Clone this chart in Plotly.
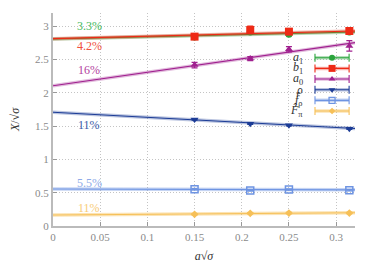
import plotly.graph_objects as go

# ---- data ----
x_pts = [0.15, 0.209, 0.25, 0.314]
series_names = ["a1", "b1", "a0", "rho", "f_rho", "F_pi"]
legend_labels = ["<i>a</i><sub>1</sub>", "<i>b</i><sub>1</sub>", "<i>a</i><sub>0</sub>",
                 "<i>ρ</i>", "<i>f̂</i><sub>ρ</sub>", "<i>F̂</i><sub>π</sub>"]
a1_vals = [2.84, 2.915, 2.88, 2.915]
a1_err = [0.02, 0.03, 0.02, 0.03]
b1_vals = [2.845, 2.945, 2.92, 2.93]
b1_err = [0.03, 0.06, 0.03, 0.04]
a0_vals = [2.417, 2.516, 2.656, 2.706]
a0_err = [0.04, 0.03, 0.04, 0.08]
rho_vals = [1.60, 1.535, 1.515, 1.46]
rho_err = [0.01, 0.01, 0.01, 0.01]
frho_vals = [0.553, 0.533, 0.548, 0.538]
frho_err = [0.01, 0.01, 0.01, 0.01]
fpi_vals = [0.175, 0.19, 0.194, 0.194]
fpi_err = [0.01, 0.01, 0.01, 0.01]

fit_x = [0.0, 0.32]
fit_a1 = [2.81, 2.915]
fit_b1 = [2.815, 2.93]
fit_a0 = [2.106, 2.755]
fit_rho = [1.71, 1.465]
fit_frho = [0.556, 0.543]
fit_fpi = [0.165, 0.198]

pct_labels = ["3.3%", "4.2%", "16%", "11%", "5.5%", "11%"]
pct_y = [3.0, 2.71, 2.35, 1.51, 0.65, 0.27]

x_ticks = [0, 0.05, 0.1, 0.15, 0.2, 0.25, 0.3]
y_ticks = [0, 0.5, 1, 1.5, 2, 2.5, 3]

# ---- style ----
colors = ["#2aa43c", "#ee2a16", "#a0208f", "#1c3c96", "#6e94e2", "#f6c058"]
bands = ["rgba(42,164,60,0.35)", "rgba(238,42,22,0.35)", "rgba(160,32,143,0.3)",
         "rgba(28,60,150,0.3)", "rgba(110,148,226,0.4)", "rgba(246,192,88,0.45)"]
pct_colors = ["#44b85a", "#f0503c", "#b2409e", "#3a5aa8", "#8eaae8", "#f8cc78"]
symbols = ["circle", "square", "triangle-up", "triangle-down", "square-open", "diamond"]
sizes = [7, 8, 7, 7, 7, 6]
leg_sizes = [6, 7, 6, 6, 6, 5]
FONT = "Liberation Serif"

vals = [a1_vals, b1_vals, a0_vals, rho_vals, frho_vals, fpi_vals]
errs = [a1_err, b1_err, a0_err, rho_err, frho_err, fpi_err]
fits = [fit_a1, fit_b1, fit_a0, fit_rho, fit_frho, fit_fpi]

fig = go.Figure()

# fit lines (band + line)
for i in range(6):
    fig.add_trace(go.Scatter(x=fit_x, y=fits[i], mode="lines",
                             line=dict(color=bands[i], width=3.5), showlegend=False, hoverinfo="skip"))
    fig.add_trace(go.Scatter(x=fit_x, y=fits[i], mode="lines",
                             line=dict(color=colors[i], width=1.1), showlegend=False, hoverinfo="skip"))

# data points
for i in range(6):
    fig.add_trace(go.Scatter(
        x=x_pts, y=vals[i], mode="markers", name=series_names[i], showlegend=False,
        marker=dict(symbol=symbols[i], size=sizes[i], color=colors[i],
                    line=dict(color=colors[i], width=1.5 if symbols[i].endswith("open") else 0)),
        error_y=dict(type="data", array=errs[i], color=colors[i], thickness=1.2, width=3),
    ))

# custom legend on overlay axes
leg_top = 0.79
leg_dy = 0.05
leg_mid = 0.924
leg_half = 0.0565
for i in range(6):
    yy = leg_top - i * leg_dy
    fig.add_trace(go.Scatter(x=[leg_mid - leg_half, leg_mid + leg_half], y=[yy, yy], mode="lines",
                             line=dict(color=bands[i], width=3.5), xaxis="x2", yaxis="y2",
                             showlegend=False, hoverinfo="skip"))
    fig.add_trace(go.Scatter(
        x=[leg_mid], y=[yy], mode="markers", xaxis="x2", yaxis="y2", showlegend=False, hoverinfo="skip",
        marker=dict(symbol=symbols[i], size=leg_sizes[i], color=colors[i],
                    line=dict(color=colors[i], width=1.3 if symbols[i].endswith("open") else 0)),
        error_x=dict(type="constant", value=leg_half, color=colors[i], thickness=1.1, width=4),
    ))
    fig.add_annotation(x=0.835, y=yy, xref="x2", yref="y2", text=legend_labels[i],
                       showarrow=False, xanchor="right", yanchor="middle",
                       font=dict(family=FONT, size=12, color="#333333"))

# percentage labels
for i in range(6):
    fig.add_annotation(x=0.0385, y=pct_y[i], text=pct_labels[i], showarrow=False,
                       xanchor="center", yanchor="middle",
                       font=dict(family=FONT, size=12, color=pct_colors[i]))

# legend background (above grid, below traces)
fig.add_shape(type="rect", xref="x domain", yref="y domain", x0=0.695, x1=1.0, y0=0.515, y1=0.797,
              fillcolor="white", line=dict(width=0), layer="below")

axis_common = dict(showgrid=True, gridcolor="#c4c4c4", griddash="1px,2px", gridwidth=1,
                   zeroline=False, showline=True, linecolor="#bbbbbb", linewidth=2,
                   ticks="inside", ticklen=4, tickcolor="#999999", automargin=False,
                   tickfont=dict(family=FONT, size=11, color="#8a8a8a"))

# page body has an 8px margin; figure is sized to fit the remaining window
fig.update_layout(
    width=366, height=255,
    margin=dict(l=45, r=19, t=5, b=37),
    paper_bgcolor="white", plot_bgcolor="white",
    showlegend=False,
    xaxis=dict(range=[0, 0.32], tickvals=x_ticks, ticktext=[str(v) for v in x_ticks],
               title=dict(text="<i>a</i>√<i>σ</i>", font=dict(family=FONT, size=12, color="#333333"),
                          standoff=10),
               **axis_common),
    yaxis=dict(range=[0, 3.2], tickvals=y_ticks, ticktext=[str(v) for v in y_ticks],
               title=dict(text="<i>X</i>/√<i>σ</i>", font=dict(family=FONT, size=12, color="#333333"),
                          standoff=14),
               **axis_common),
    xaxis2=dict(overlaying="x", range=[0, 1], visible=False),
    yaxis2=dict(overlaying="y", range=[0, 1], visible=False),
)

fig.write_html("out.html")
